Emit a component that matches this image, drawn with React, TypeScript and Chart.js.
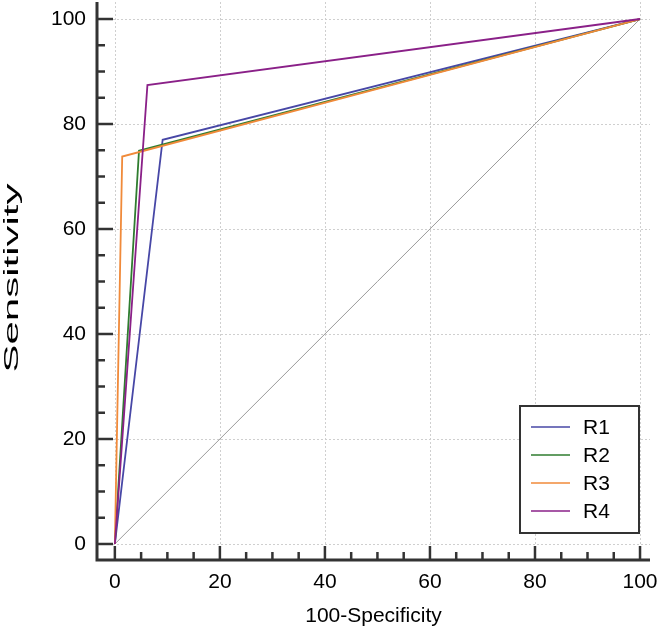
import React, { useEffect, useRef } from "react";
import { Chart, registerables } from "chart.js";

Chart.register(...registerables);

const seriesNames = ["R1", "R2", "R3", "R4"];
const seriesColors = ["#4747a6", "#2f7d2f", "#f08a3a", "#8a2088"];
const r1X = [0, 9.1, 100];
const r1Y = [0, 77.0, 100];
const r2X = [0, 4.6, 100];
const r2Y = [0, 74.9, 100];
const r3X = [0, 1.4, 100];
const r3Y = [0, 73.8, 100];
const r4X = [0, 6.2, 100];
const r4Y = [0, 87.4, 100];
const refX = [0, 100];
const refY = [0, 100];
const xTicks = [0, 20, 40, 60, 80, 100];
const yTicks = [0, 20, 40, 60, 80, 100];
const minorStep = 5;
const xTitle = "100-Specificity";
const yTitle = "Sensitivity";

const FONT = "'Liberation Sans', Arial, sans-serif";

const toPts = (xs: number[], ys: number[]) => xs.map((x, i) => ({ x, y: ys[i] }));

const axesPlugin = {
  id: "medcalcAxes",
  beforeDatasetsDraw(chart: any) {
    const { ctx, chartArea } = chart;
    const xs = chart.scales.x;
    const ys = chart.scales.y;
    ctx.save();
    ctx.strokeStyle = "#cfcfcf";
    ctx.lineWidth = 1;
    ctx.setLineDash([2, 2]);
    xTicks.forEach((v) => {
      const px = Math.round(xs.getPixelForValue(v)) + 0.5;
      ctx.beginPath();
      ctx.moveTo(px, chartArea.top);
      ctx.lineTo(px, chartArea.bottom);
      ctx.stroke();
    });
    yTicks.forEach((v) => {
      const py = Math.round(ys.getPixelForValue(v)) + 0.5;
      ctx.beginPath();
      ctx.moveTo(chartArea.left, py);
      ctx.lineTo(chartArea.right, py);
      ctx.stroke();
    });
    ctx.restore();
  },
  afterDatasetsDraw(chart: any) {
    const { ctx, chartArea } = chart;
    const xs = chart.scales.x;
    const ys = chart.scales.y;
    ctx.save();
    ctx.setLineDash([]);
    ctx.strokeStyle = "#333333";
    // axis lines
    ctx.lineWidth = 3;
    ctx.beginPath();
    ctx.moveTo(chartArea.left, chartArea.top);
    ctx.lineTo(chartArea.left, chartArea.bottom);
    ctx.lineTo(chartArea.right, chartArea.bottom);
    ctx.stroke();
    // ticks
    ctx.lineWidth = 2.5;
    const x0 = xTicks[0];
    const x1 = xTicks[xTicks.length - 1];
    for (let v = x0; v <= x1 + 1e-9; v += minorStep) {
      const major = xTicks.includes(v);
      const px = xs.getPixelForValue(v);
      ctx.beginPath();
      ctx.moveTo(px, chartArea.bottom);
      ctx.lineTo(px, chartArea.bottom - (major ? 14 : 8));
      ctx.stroke();
    }
    const y0 = yTicks[0];
    const y1 = yTicks[yTicks.length - 1];
    for (let v = y0; v <= y1 + 1e-9; v += minorStep) {
      const major = yTicks.includes(v);
      const py = ys.getPixelForValue(v);
      ctx.beginPath();
      ctx.moveTo(chartArea.left, py);
      ctx.lineTo(chartArea.left + (major ? 16 : 8), py);
      ctx.stroke();
    }
    // y title (stretched along its length like the reference)
    ctx.save();
    ctx.fillStyle = "#000";
    ctx.font = `20px ${FONT}`;
    ctx.textAlign = "center";
    ctx.textBaseline = "alphabetic";
    const cy = (chartArea.top + chartArea.bottom) / 2 - 3;
    ctx.translate(17.5, cy);
    ctx.rotate(-Math.PI / 2);
    ctx.scale(2.1, 1);
    ctx.fillText(yTitle, 0, 0);
    ctx.restore();
    // legend
    const bx = 520, by = 406, bw = 119, bh = 127;
    ctx.fillStyle = "#ffffff";
    ctx.fillRect(bx, by, bw, bh);
    ctx.lineWidth = 2;
    ctx.strokeStyle = "#333333";
    ctx.strokeRect(bx, by, bw, bh);
    ctx.font = `21px ${FONT}`;
    ctx.textBaseline = "middle";
    ctx.textAlign = "left";
    seriesNames.forEach((name, i) => {
      const ly = 427 + i * 28;
      ctx.strokeStyle = seriesColors[i];
      ctx.lineWidth = 1.6;
      ctx.beginPath();
      ctx.moveTo(531, ly);
      ctx.lineTo(570, ly);
      ctx.stroke();
      ctx.fillStyle = "#000000";
      ctx.fillText(name, 583, ly + 1);
    });
    ctx.restore();
  },
};

export default function App() {
  const ref = useRef<HTMLCanvasElement | null>(null);
  useEffect(() => {
    if (!ref.current) return;
    const seriesX = [r1X, r2X, r3X, r4X];
    const seriesY = [r1Y, r2Y, r3Y, r4Y];
    const datasets: any[] = seriesNames.map((name, i) => ({
      label: name,
      data: toPts(seriesX[i], seriesY[i]),
      showLine: true,
      borderColor: seriesColors[i],
      backgroundColor: seriesColors[i],
      borderWidth: 1.8,
      pointRadius: 0,
      fill: false,
      order: seriesNames.length - i,
    }));
    datasets.push({
      label: "reference",
      data: toPts(refX, refY),
      showLine: true,
      borderColor: "#9a9a9a",
      borderWidth: 1,
      pointRadius: 0,
      fill: false,
      order: 10,
    });
    const chart = new Chart(ref.current, {
      type: "scatter",
      data: { datasets },
      options: {
        animation: false,
        responsive: false,
        devicePixelRatio: 1,
        layout: { padding: { top: 2, right: 10, left: 0, bottom: 0 } },
        plugins: { legend: { display: false }, tooltip: { enabled: false } },
        scales: {
          x: {
            type: "linear",
            min: -3.4,
            max: 101.9,
            afterBuildTicks: (s: any) => {
              s.ticks = xTicks.map((v) => ({ value: v }));
            },
            afterFit: (s: any) => {
              s.height = 72;
              s.paddingLeft = 0;
              s.paddingRight = 0;
              s.paddingTop = 0;
              s.paddingBottom = 0;
            },
            grid: { display: false, drawTicks: false },
            border: { display: false },
            ticks: {
              color: "#000",
              font: { family: FONT, size: 21 },
              padding: 10,
              maxRotation: 0,
              autoSkip: false,
            },
            title: {
              display: true,
              text: xTitle,
              color: "#000",
              font: { family: FONT, size: 21 },
              padding: { top: 0, bottom: 3 },
            },
          },
          y: {
            type: "linear",
            min: -3.05,
            max: 103.24,
            afterBuildTicks: (s: any) => {
              s.ticks = yTicks.map((v) => ({ value: v }));
            },
            afterFit: (s: any) => {
              s.width = 97;
              s.paddingLeft = 0;
              s.paddingRight = 0;
              s.paddingTop = 0;
              s.paddingBottom = 0;
            },
            grid: { display: false, drawTicks: false },
            border: { display: false },
            ticks: {
              color: "#000",
              font: { family: FONT, size: 21 },
              padding: 11,
              autoSkip: false,
            },
            title: { display: false },
          },
        },
      },
      plugins: [axesPlugin],
    });
    return () => chart.destroy();
  }, []);
  return (
    <div style={{ position: "absolute", left: 0, top: 0, width: 660, height: 632, background: "#fff" }}>
      <canvas ref={ref} width={660} height={632} style={{ display: "block" }} />
    </div>
  );
}
